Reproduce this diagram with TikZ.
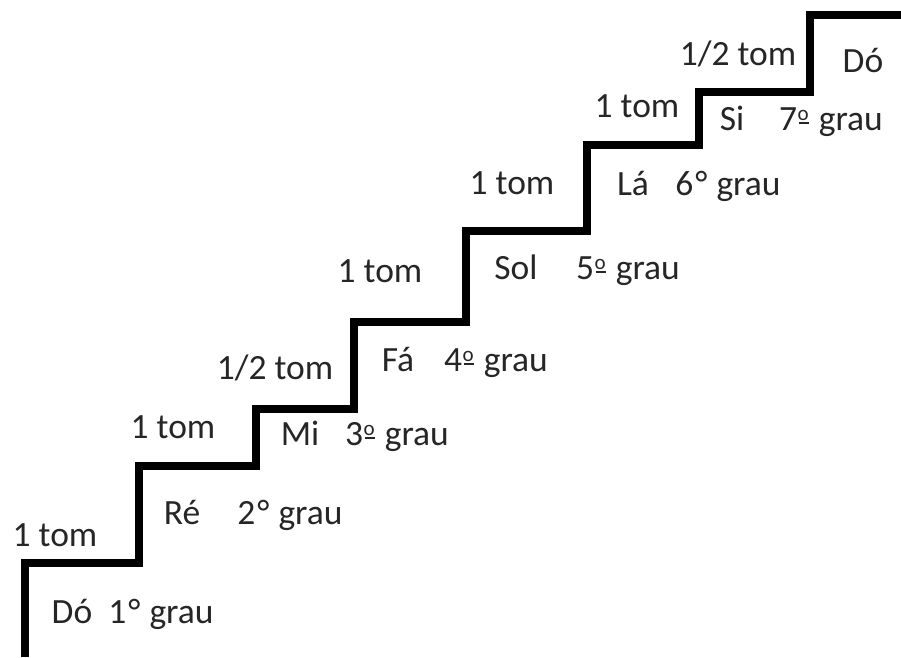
\documentclass[tikz,border=0pt]{standalone}
\usepackage{fontspec}
\setmainfont{Carlito}
\newcommand{\ordm}{\hspace{0.5pt}{\fontsize{21}{21}\selectfont\raisebox{10pt}{o}\llap{\raisebox{6pt}{\rule{10pt}{1.8pt}}}}\hspace{2pt}}
\newcommand{\degr}{\hspace{2pt}°\hspace{1pt}}
\begin{document}
\begin{tikzpicture}[x=1pt,y=-1pt,
  stair/.style={line width=8pt,line join=miter,line cap=butt},
  lbl/.style={font=\fontsize{35.5}{40}\selectfont,inner sep=0pt,anchor=base,text=black!85}]
\useasboundingbox (0,0) rectangle (901,657);
\coordinate (s0) at (25,657);
\coordinate (s1) at (25,563);
\coordinate (s2) at (139,563);
\coordinate (s3) at (139,466);
\coordinate (s4) at (256,466);
\coordinate (s5) at (256,409);
\coordinate (s6) at (354,409);
\coordinate (s7) at (354,322);
\coordinate (s8) at (466,322);
\coordinate (s9) at (466,231);
\coordinate (s10) at (587,231);
\coordinate (s11) at (587,145);
\coordinate (s12) at (699,145);
\coordinate (s13) at (699,92);
\coordinate (s14) at (810,92);
\coordinate (s15) at (810,15);
\coordinate (s16) at (905,15);
\draw[stair] (s0) -- (s1) -- (s2) -- (s3) -- (s4) -- (s5) -- (s6) -- (s7) -- (s8) -- (s9) -- (s10) -- (s11) -- (s12) -- (s13) -- (s14) -- (s15) -- (s16);
% intervals
\node[lbl] (t1) at (55,546) {1 tom};
\node[lbl] (t2) at (173,438) {1 tom};
\node[lbl] (t3) at (275,379) {1/2 tom};
\node[lbl] (t4) at (380,282) {1 tom};
\node[lbl] (t5) at (512,194) {1 tom};
\node[lbl] (t6) at (637,117) {1 tom};
\node[lbl] (t7) at (738,65) {1/2 tom};
% notes
\node[lbl] (n1) at (72,623) {Dó};
\node[lbl] (g1) at (161,623) {1\degr{} grau};
\node[lbl] (n2) at (182,524) {Ré};
\node[lbl] (g2) at (290,524) {2\degr{} grau};
\node[lbl] (n3) at (300,445) {Mi};
\node[lbl] (g3) at (397,445) {3\ordm{} grau};
\node[lbl] (n4) at (398,371) {Fá};
\node[lbl] (g4) at (496,371) {4\ordm{} grau};
\node[lbl] (n5) at (516,279) {Sol};
\node[lbl] (g5) at (628,279) {5\ordm{} grau};
\node[lbl] (n6) at (633,195) {Lá};
\node[lbl] (g6) at (728,195) {6\degr{} grau};
\node[lbl] (n7) at (732,130) {Si};
\node[lbl] (g7) at (831,130) {7\ordm{} grau};
\node[lbl] (n8) at (863,72) {Dó};
\end{tikzpicture}
\end{document}
